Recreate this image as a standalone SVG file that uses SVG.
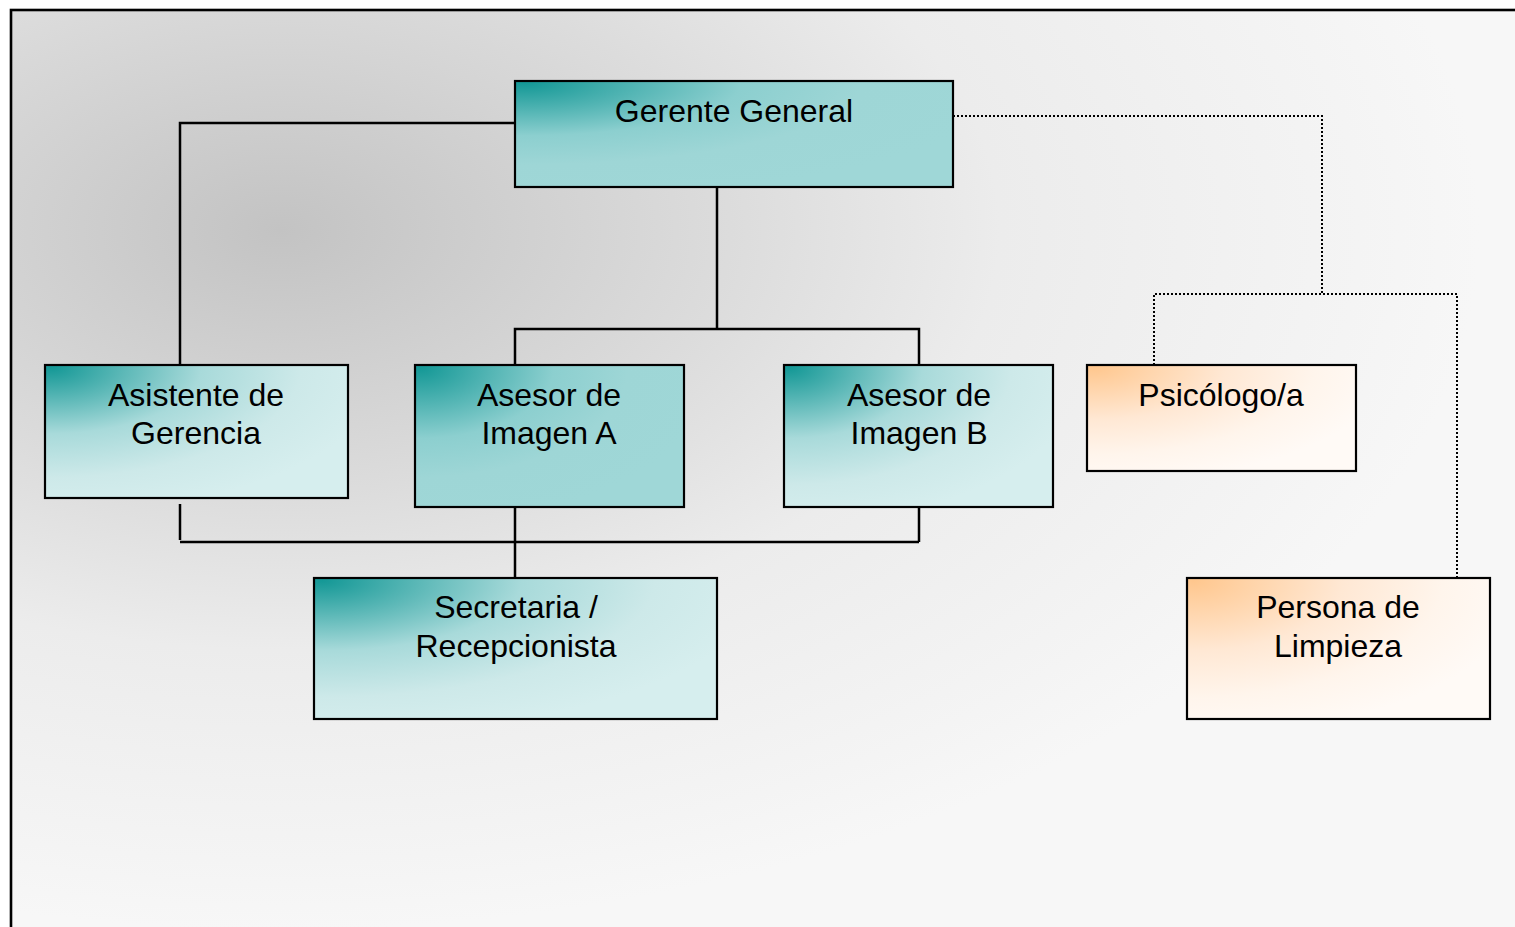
<svg xmlns="http://www.w3.org/2000/svg" width="1515" height="927" viewBox="0 0 1515 927">
  <defs>
    <radialGradient id="bg" gradientUnits="userSpaceOnUse" cx="280" cy="230" r="1200" gradientTransform="translate(280 230) scale(1 0.5833) translate(-280 -230)">
      <stop offset="0" stop-color="#c3c3c3"/>
      <stop offset="0.375" stop-color="#dcdcdc"/>
      <stop offset="0.6" stop-color="#ececec"/>
      <stop offset="0.9" stop-color="#f4f4f4"/>
      <stop offset="1" stop-color="#f7f7f7"/>
    </radialGradient>
    <radialGradient id="tealDark" cx="0.02" cy="0.02" r="1.1" fx="0.02" fy="0.02">
      <stop offset="0" stop-color="#149896"/>
      <stop offset="0.45" stop-color="#8ccfcf"/>
      <stop offset="0.7" stop-color="#9ed6d6"/>
      <stop offset="1" stop-color="#9fd7d7"/>
    </radialGradient>
    <radialGradient id="tealLight" cx="0.02" cy="0.02" r="1.1" fx="0.02" fy="0.02">
      <stop offset="0" stop-color="#149896"/>
      <stop offset="0.45" stop-color="#a8dada"/>
      <stop offset="0.75" stop-color="#cde9e9"/>
      <stop offset="1" stop-color="#d6eeee"/>
    </radialGradient>
    <radialGradient id="orange" cx="0.02" cy="0.02" r="1.1" fx="0.02" fy="0.02">
      <stop offset="0" stop-color="#ffc78e"/>
      <stop offset="0.45" stop-color="#ffe8d4"/>
      <stop offset="0.75" stop-color="#fff5ec"/>
      <stop offset="1" stop-color="#fffaf6"/>
    </radialGradient>
    <style>
      .box { stroke: #000; stroke-width: 2.2; }
      .lbl { font-family: "Liberation Sans", Arial, sans-serif; font-size: 32px; fill: #000; text-anchor: middle; }
      .solid { fill: none; stroke: #000; stroke-width: 2.5; }
      .dot { fill: none; stroke: #000; stroke-width: 2; stroke-dasharray: 2 2; }
    </style>
  </defs>
  <rect x="0" y="0" width="1515" height="927" fill="#ffffff"/>
  <rect x="11" y="10" width="1520" height="940" fill="url(#bg)" stroke="#000" stroke-width="2.6"/>

  <g id="connectors">
    <path class="solid" d="M515 123 H180 V365"/>
    <path class="solid" d="M717 187 V329 M515 365 V329 H919 V365"/>
    <path class="solid" d="M180 504 V540 M180 542 H919 M919 507 V542 M515 507 V578"/>
    <path class="dot" d="M953 116 H1322 V294 M1154 365 V294 H1457 V578"/>
  </g>

  <g id="gerente-general">
    <rect class="box" x="515" y="81" width="438" height="106" fill="url(#tealDark)"/>
    <text class="lbl" x="734" y="122">Gerente General</text>
  </g>
  <g id="asistente-gerencia">
    <rect class="box" x="45" y="365" width="303" height="133" fill="url(#tealLight)"/>
    <text class="lbl" x="196" y="406">Asistente de</text>
    <text class="lbl" x="196" y="444">Gerencia</text>
  </g>
  <g id="asesor-a">
    <rect class="box" x="415" y="365" width="269" height="142" fill="url(#tealDark)"/>
    <text class="lbl" x="549" y="406">Asesor de</text>
    <text class="lbl" x="549" y="444">Imagen A</text>
  </g>
  <g id="asesor-b">
    <rect class="box" x="784" y="365" width="269" height="142" fill="url(#tealLight)"/>
    <text class="lbl" x="919" y="406">Asesor de</text>
    <text class="lbl" x="919" y="444">Imagen B</text>
  </g>
  <g id="secretaria">
    <rect class="box" x="314" y="578" width="403" height="141" fill="url(#tealLight)"/>
    <text class="lbl" x="516" y="618">Secretaria /</text>
    <text class="lbl" x="516" y="657">Recepcionista</text>
  </g>
  <g id="psicologo">
    <rect class="box" x="1087" y="365" width="269" height="106" fill="url(#orange)"/>
    <text class="lbl" x="1221" y="406">Psicólogo/a</text>
  </g>
  <g id="persona-limpieza">
    <rect class="box" x="1187" y="578" width="303" height="141" fill="url(#orange)"/>
    <text class="lbl" x="1338" y="618">Persona de</text>
    <text class="lbl" x="1338" y="657">Limpieza</text>
  </g>
</svg>
